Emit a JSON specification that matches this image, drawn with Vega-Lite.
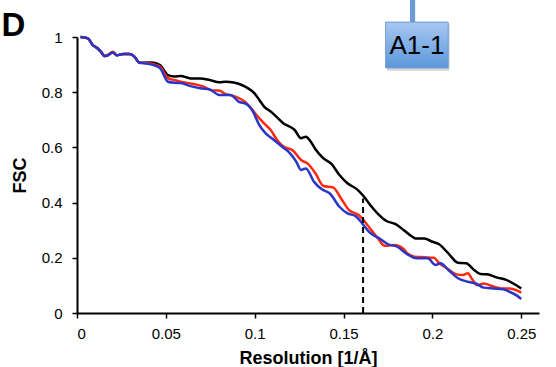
{
  "$schema": "https://vega.github.io/schema/vega-lite/v6.json",
  "width": 462,
  "height": 276,
  "autosize": {"type": "none"},
  "padding": {"left": 77, "top": 37, "right": 17, "bottom": 54},
  "background": "white",
  "config": {
    "view": {"stroke": null},
    "font": "Liberation Sans",
    "axis": {
      "grid": false,
      "domainColor": "black",
      "domainWidth": 2,
      "tickColor": "black",
      "tickWidth": 1.5,
      "tickSize": 5,
      "labelFont": "Liberation Sans",
      "labelFontSize": 15,
      "labelColor": "black",
      "titleFont": "Liberation Sans",
      "titleFontSize": 18,
      "titleFontWeight": "bold",
      "titleColor": "black"
    }
  },
  "datasets": {
    "fsc": [
      {"s": "black", "x": 0.002, "y": 1.0}, {"s": "black", "x": 0.0061, "y": 0.995}, {"s": "black", "x": 0.0088, "y": 0.971}, {"s": "black", "x": 0.0115, "y": 0.959}, {"s": "black", "x": 0.0134, "y": 0.947}, {"s": "black", "x": 0.0155, "y": 0.931}, {"s": "black", "x": 0.0173, "y": 0.934}, {"s": "black", "x": 0.0202, "y": 0.945}, {"s": "black", "x": 0.0224, "y": 0.934}, {"s": "black", "x": 0.026, "y": 0.938}, {"s": "black", "x": 0.0296, "y": 0.938}, {"s": "black", "x": 0.0323, "y": 0.929}, {"s": "black", "x": 0.035, "y": 0.908}, {"s": "black", "x": 0.0377, "y": 0.907},
      {"s": "black", "x": 0.0422, "y": 0.908}, {"s": "black", "x": 0.0467, "y": 0.898}, {"s": "black", "x": 0.0512, "y": 0.862}, {"s": "black", "x": 0.0548, "y": 0.857}, {"s": "black", "x": 0.0584, "y": 0.859}, {"s": "black", "x": 0.0639, "y": 0.85}, {"s": "black", "x": 0.0693, "y": 0.85}, {"s": "black", "x": 0.0747, "y": 0.844}, {"s": "black", "x": 0.08, "y": 0.836}, {"s": "black", "x": 0.0837, "y": 0.838}, {"s": "black", "x": 0.0882, "y": 0.835}, {"s": "black", "x": 0.0927, "y": 0.826}, {"s": "black", "x": 0.0963, "y": 0.814}, {"s": "black", "x": 0.0999, "y": 0.796}, {"s": "black", "x": 0.1026, "y": 0.772}, {"s": "black", "x": 0.1053, "y": 0.748}, {"s": "black", "x": 0.109, "y": 0.73}, {"s": "black", "x": 0.1126, "y": 0.709}, {"s": "black", "x": 0.1162, "y": 0.687}, {"s": "black", "x": 0.1198, "y": 0.675}, {"s": "black", "x": 0.1225, "y": 0.663}, {"s": "black", "x": 0.1261, "y": 0.633}, {"s": "black", "x": 0.1288, "y": 0.639}, {"s": "black", "x": 0.1315, "y": 0.621}, {"s": "black", "x": 0.1342, "y": 0.593}, {"s": "black", "x": 0.1387, "y": 0.56}, {"s": "black", "x": 0.1432, "y": 0.54}, {"s": "black", "x": 0.1477, "y": 0.5}, {"s": "black", "x": 0.1522, "y": 0.47}, {"s": "black", "x": 0.1576, "y": 0.448}, {"s": "black", "x": 0.1612, "y": 0.424}, {"s": "black", "x": 0.1658, "y": 0.385}, {"s": "black", "x": 0.1694, "y": 0.359}, {"s": "black", "x": 0.1739, "y": 0.334}, {"s": "black", "x": 0.1793, "y": 0.322}, {"s": "black", "x": 0.1838, "y": 0.301}, {"s": "black", "x": 0.1883, "y": 0.278}, {"s": "black", "x": 0.1905, "y": 0.27}, {"s": "black", "x": 0.1955, "y": 0.27}, {"s": "black", "x": 0.2, "y": 0.258}, {"s": "black", "x": 0.2036, "y": 0.25}, {"s": "black", "x": 0.209, "y": 0.216}, {"s": "black", "x": 0.2144, "y": 0.182}, {"s": "black", "x": 0.219, "y": 0.18}, {"s": "black", "x": 0.2235, "y": 0.156}, {"s": "black", "x": 0.2271, "y": 0.141}, {"s": "black", "x": 0.2307, "y": 0.14}, {"s": "black", "x": 0.2361, "y": 0.129}, {"s": "black", "x": 0.2415, "y": 0.12}, {"s": "black", "x": 0.246, "y": 0.105}, {"s": "black", "x": 0.25, "y": 0.089},

      {"s": "red", "x": 0.002, "y": 1.0}, {"s": "red", "x": 0.0061, "y": 0.995}, {"s": "red", "x": 0.0088, "y": 0.971}, {"s": "red", "x": 0.0115, "y": 0.959}, {"s": "red", "x": 0.0134, "y": 0.947}, {"s": "red", "x": 0.0155, "y": 0.931}, {"s": "red", "x": 0.0173, "y": 0.934}, {"s": "red", "x": 0.0202, "y": 0.947}, {"s": "red", "x": 0.0224, "y": 0.934}, {"s": "red", "x": 0.026, "y": 0.938}, {"s": "red", "x": 0.0296, "y": 0.938}, {"s": "red", "x": 0.0323, "y": 0.929}, {"s": "red", "x": 0.035, "y": 0.907}, {"s": "red", "x": 0.0377, "y": 0.906},
      {"s": "red", "x": 0.0422, "y": 0.903}, {"s": "red", "x": 0.0467, "y": 0.893}, {"s": "red", "x": 0.0512, "y": 0.851}, {"s": "red", "x": 0.0548, "y": 0.844}, {"s": "red", "x": 0.0584, "y": 0.838}, {"s": "red", "x": 0.0639, "y": 0.832}, {"s": "red", "x": 0.071, "y": 0.821}, {"s": "red", "x": 0.0764, "y": 0.806}, {"s": "red", "x": 0.08, "y": 0.806}, {"s": "red", "x": 0.0828, "y": 0.796}, {"s": "red", "x": 0.0891, "y": 0.784}, {"s": "red", "x": 0.0945, "y": 0.766}, {"s": "red", "x": 0.098, "y": 0.742}, {"s": "red", "x": 0.1017, "y": 0.712}, {"s": "red", "x": 0.1053, "y": 0.687}, {"s": "red", "x": 0.109, "y": 0.663}, {"s": "red", "x": 0.1126, "y": 0.627}, {"s": "red", "x": 0.1162, "y": 0.603}, {"s": "red", "x": 0.1216, "y": 0.588}, {"s": "red", "x": 0.1261, "y": 0.554}, {"s": "red", "x": 0.1297, "y": 0.542}, {"s": "red", "x": 0.1342, "y": 0.506}, {"s": "red", "x": 0.1387, "y": 0.46}, {"s": "red", "x": 0.1441, "y": 0.455}, {"s": "red", "x": 0.1486, "y": 0.415}, {"s": "red", "x": 0.1531, "y": 0.373}, {"s": "red", "x": 0.1585, "y": 0.355}, {"s": "red", "x": 0.1612, "y": 0.337}, {"s": "red", "x": 0.1648, "y": 0.307}, {"s": "red", "x": 0.1694, "y": 0.27}, {"s": "red", "x": 0.173, "y": 0.244}, {"s": "red", "x": 0.1784, "y": 0.246}, {"s": "red", "x": 0.1838, "y": 0.232}, {"s": "red", "x": 0.1856, "y": 0.218}, {"s": "red", "x": 0.1901, "y": 0.204}, {"s": "red", "x": 0.1955, "y": 0.202}, {"s": "red", "x": 0.2009, "y": 0.2}, {"s": "red", "x": 0.2036, "y": 0.182}, {"s": "red", "x": 0.2082, "y": 0.162}, {"s": "red", "x": 0.2136, "y": 0.14}, {"s": "red", "x": 0.2172, "y": 0.138}, {"s": "red", "x": 0.2199, "y": 0.144}, {"s": "red", "x": 0.2226, "y": 0.12}, {"s": "red", "x": 0.2253, "y": 0.101}, {"s": "red", "x": 0.2289, "y": 0.107}, {"s": "red", "x": 0.2334, "y": 0.098}, {"s": "red", "x": 0.2388, "y": 0.089}, {"s": "red", "x": 0.2434, "y": 0.089}, {"s": "red", "x": 0.2478, "y": 0.081}, {"s": "red", "x": 0.25, "y": 0.074},

      {"s": "blue", "x": 0.002, "y": 1.0}, {"s": "blue", "x": 0.0061, "y": 0.995}, {"s": "blue", "x": 0.0088, "y": 0.971}, {"s": "blue", "x": 0.0115, "y": 0.959}, {"s": "blue", "x": 0.0134, "y": 0.947}, {"s": "blue", "x": 0.0155, "y": 0.931}, {"s": "blue", "x": 0.0173, "y": 0.934}, {"s": "blue", "x": 0.0202, "y": 0.944}, {"s": "blue", "x": 0.0224, "y": 0.934}, {"s": "blue", "x": 0.026, "y": 0.938}, {"s": "blue", "x": 0.0296, "y": 0.938}, {"s": "blue", "x": 0.0323, "y": 0.929}, {"s": "blue", "x": 0.035, "y": 0.907}, {"s": "blue", "x": 0.0377, "y": 0.905},
      {"s": "blue", "x": 0.0422, "y": 0.9}, {"s": "blue", "x": 0.0467, "y": 0.887}, {"s": "blue", "x": 0.0512, "y": 0.838}, {"s": "blue", "x": 0.0548, "y": 0.834}, {"s": "blue", "x": 0.0584, "y": 0.833}, {"s": "blue", "x": 0.0639, "y": 0.822}, {"s": "blue", "x": 0.0693, "y": 0.814}, {"s": "blue", "x": 0.0747, "y": 0.81}, {"s": "blue", "x": 0.08, "y": 0.79}, {"s": "blue", "x": 0.0864, "y": 0.79}, {"s": "blue", "x": 0.0909, "y": 0.766}, {"s": "blue", "x": 0.0954, "y": 0.757}, {"s": "blue", "x": 0.099, "y": 0.73}, {"s": "blue", "x": 0.1026, "y": 0.681}, {"s": "blue", "x": 0.1062, "y": 0.651}, {"s": "blue", "x": 0.1108, "y": 0.627}, {"s": "blue", "x": 0.1153, "y": 0.603}, {"s": "blue", "x": 0.1198, "y": 0.579}, {"s": "blue", "x": 0.1234, "y": 0.548}, {"s": "blue", "x": 0.1261, "y": 0.518}, {"s": "blue", "x": 0.1288, "y": 0.524}, {"s": "blue", "x": 0.1333, "y": 0.476}, {"s": "blue", "x": 0.1378, "y": 0.448}, {"s": "blue", "x": 0.1423, "y": 0.433}, {"s": "blue", "x": 0.1477, "y": 0.385}, {"s": "blue", "x": 0.1522, "y": 0.361}, {"s": "blue", "x": 0.1568, "y": 0.351}, {"s": "blue", "x": 0.1612, "y": 0.319}, {"s": "blue", "x": 0.1648, "y": 0.291}, {"s": "blue", "x": 0.1703, "y": 0.27}, {"s": "blue", "x": 0.1748, "y": 0.25}, {"s": "blue", "x": 0.1802, "y": 0.24}, {"s": "blue", "x": 0.1856, "y": 0.214}, {"s": "blue", "x": 0.191, "y": 0.198}, {"s": "blue", "x": 0.1974, "y": 0.198}, {"s": "blue", "x": 0.2018, "y": 0.174}, {"s": "blue", "x": 0.2045, "y": 0.18}, {"s": "blue", "x": 0.209, "y": 0.156}, {"s": "blue", "x": 0.2144, "y": 0.126}, {"s": "blue", "x": 0.2199, "y": 0.113}, {"s": "blue", "x": 0.2244, "y": 0.107}, {"s": "blue", "x": 0.2289, "y": 0.092}, {"s": "blue", "x": 0.2343, "y": 0.089}, {"s": "blue", "x": 0.2397, "y": 0.086}, {"s": "blue", "x": 0.2434, "y": 0.077}, {"s": "blue", "x": 0.2478, "y": 0.062}, {"s": "blue", "x": 0.25, "y": 0.051}
    ],
    "cutoff": [{"x": 0.161, "y": 0, "y2": 0.415}],
    "stem": [{"x": 0.1874, "x2": 0.1903, "y": 1.054, "y2": 1.14}],
    "shadow": [{"x": 0.1745, "x2": 0.2097, "y": 1.046, "y2": 0.878}],
    "box": [{"x": 0.1737, "x2": 0.2089, "y": 1.054, "y2": 0.888, "label": "A1-1", "lx": 0.1913, "ly": 0.966}],
    "panel": [{"x": -0.0425, "y": 1.004, "label": "D"}]
  },
  "encoding": {
    "x": {"field": "x", "type": "quantitative"},
    "y": {"field": "y", "type": "quantitative"}
  },
  "layer": [
    {
      "data": {"name": "fsc"},
      "transform": [{"filter": "datum.s === 'black'"}],
      "mark": {"type": "line", "color": "black", "strokeWidth": 2.5, "interpolate": "monotone"},
      "encoding": {
        "x": {"field": "x", "type": "quantitative", "scale": {"domain": [0, 0.25]},
          "axis": {"values": [0, 0.05, 0.1, 0.15, 0.2, 0.25], "format": "~g", "title": "Resolution [1/Å]", "labelPadding": 8, "titlePadding": 8}},
        "y": {"field": "y", "type": "quantitative", "scale": {"domain": [0, 1]},
          "axis": {"values": [0, 0.1, 0.2, 0.3, 0.4, 0.5, 0.6, 0.7, 0.8, 0.9, 1], "format": "~g", "title": "FSC", "labelPadding": 10, "titlePadding": 12}}
      }
    },
    {
      "data": {"name": "fsc"},
      "transform": [{"filter": "datum.s === 'red'"}],
      "mark": {"type": "line", "color": "#fb2a0e", "strokeWidth": 2.5, "interpolate": "monotone"}
    },
    {
      "data": {"name": "fsc"},
      "transform": [{"filter": "datum.s === 'blue'"}],
      "mark": {"type": "line", "color": "#2a36c8", "strokeWidth": 2.5, "interpolate": "monotone"}
    },
    {
      "data": {"name": "cutoff"},
      "mark": {"type": "rule", "color": "black", "strokeWidth": 2, "strokeDash": [6, 4]},
      "encoding": {"y2": {"field": "y2"}}
    },
    {
      "data": {"name": "stem"},
      "mark": {"type": "rect", "color": "#6b9bd6", "clip": false},
      "encoding": {"x2": {"field": "x2"}, "y2": {"field": "y2"}}
    },
    {
      "data": {"name": "shadow"},
      "mark": {"type": "rect", "color": "#888888", "opacity": 0.35, "clip": false},
      "encoding": {"x2": {"field": "x2"}, "y2": {"field": "y2"}}
    },
    {
      "data": {"name": "box"},
      "mark": {
        "type": "rect",
        "clip": false,
        "stroke": "#6f9ad3",
        "strokeWidth": 1,
        "fill": {"gradient": "linear", "x1": 0, "y1": 0, "x2": 0, "y2": 1,
          "stops": [{"offset": 0, "color": "#a8c7f2"}, {"offset": 1, "color": "#5b98da"}]}
      },
      "encoding": {"x2": {"field": "x2"}, "y2": {"field": "y2"}}
    },
    {
      "data": {"name": "box"},
      "mark": {"type": "text", "font": "Liberation Sans", "fontSize": 26, "color": "black", "align": "center", "baseline": "middle", "clip": false},
      "encoding": {
        "x": {"field": "lx", "type": "quantitative"},
        "y": {"field": "ly", "type": "quantitative"},
        "text": {"field": "label"}
      }
    },
    {
      "data": {"name": "panel"},
      "mark": {"type": "text", "font": "Liberation Sans", "fontSize": 33, "fontWeight": "bold", "color": "black", "align": "left", "baseline": "alphabetic", "clip": false},
      "encoding": {"text": {"field": "label"}}
    }
  ]
}
